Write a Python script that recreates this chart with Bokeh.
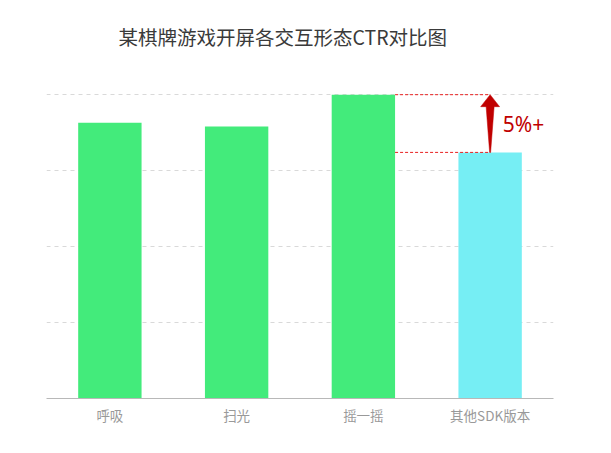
from bokeh.plotting import figure
from bokeh.models import Range1d, FactorRange, Title
from bokeh.core.properties import value
from bokeh.embed import file_html
from bokeh.resources import INLINE

categories = ["呼吸", "扫光", "摇一摇", "其他SDK版本"]
ctr_values = [3.63, 3.58, 4.00, 3.24]
bar_colors = ["#43EB7B", "#43EB7B", "#43EB7B", "#76EEF4"]
delta_label = "5%+"
title_text = "某棋牌游戏开屏各交互形态CTR对比图"

p = figure(width=595, height=437, x_range=FactorRange(*categories, range_padding=0),
           y_range=Range1d(0, 4.45), output_backend="svg", toolbar_location=None,
           min_border_left=46, min_border_right=42, min_border_top=60, min_border_bottom=39)
p.x_range.factor_padding = 0
p.title = Title(text=title_text, align="left", offset=72, text_font="Noto Sans CJK SC",
                text_font_size="19.5px", text_color="#3a3a3a", text_font_style="normal",
                standoff=20)
p.outline_line_color = None
p.background_fill_color = "white"

p.vbar(x=categories, top=ctr_values, width=0.5, color=bar_colors, line_color=None)

# grid
p.xgrid.grid_line_color = None
p.ygrid.grid_line_color = "#d9d9d9"
p.ygrid.grid_line_dash = "4 4"
p.ygrid.ticker = [1, 2, 3, 4]
p.yaxis.visible = False

p.xaxis.axis_line_color = "#b8b8b8"
p.xaxis.major_tick_line_color = None
p.xaxis.minor_tick_line_color = None
p.xaxis.major_label_text_color = "#999999"
p.xaxis.major_label_text_font = "Noto Sans CJK SC"
p.xaxis.major_label_text_font_size = "13.5px"
p.xaxis.major_label_standoff = 0

# comparison annotation (synthetic categorical coordinates)
i_ref = categories.index("摇一摇")
i_cmp = categories.index("其他SDK版本")
x_ref_edge = i_ref + 0.5 + 0.25
x_arrow = i_cmp + 0.5
y_top = ctr_values[i_ref]
y_bot = ctr_values[i_cmp]
red = "#E82020"
p.segment(x0=[x_ref_edge, x_ref_edge], y0=[y_top, y_bot], x1=[x_arrow, x_arrow], y1=[y_top, y_bot],
          line_color=red, line_width=1, line_dash="3 2")

px_x = 1 / 127.0
px_y = 1 / 76.0
head_h = 12 * px_y
head_w = 9.5 * px_x
shaft_w = 4 * px_x
ax = [x_arrow, x_arrow + head_w, x_arrow + shaft_w, x_arrow + 0.5 * px_x, x_arrow - 0.5 * px_x,
      x_arrow - shaft_w, x_arrow - head_w]
ay = [y_top, y_top - head_h, y_top - head_h, y_bot, y_bot, y_top - head_h, y_top - head_h]
p.patch(ax, ay, color="#C00000", line_color="#C00000", line_width=0.5)

p.text(x=[x_arrow + 0.1], y=[(y_top + y_bot) / 2], text=[delta_label], text_color="#C00000",
       text_font_size="21px", text_baseline="middle", text_align="left",
       text_font=value("Noto Sans"))

open("out.html", "w").write(file_html(p, INLINE))
